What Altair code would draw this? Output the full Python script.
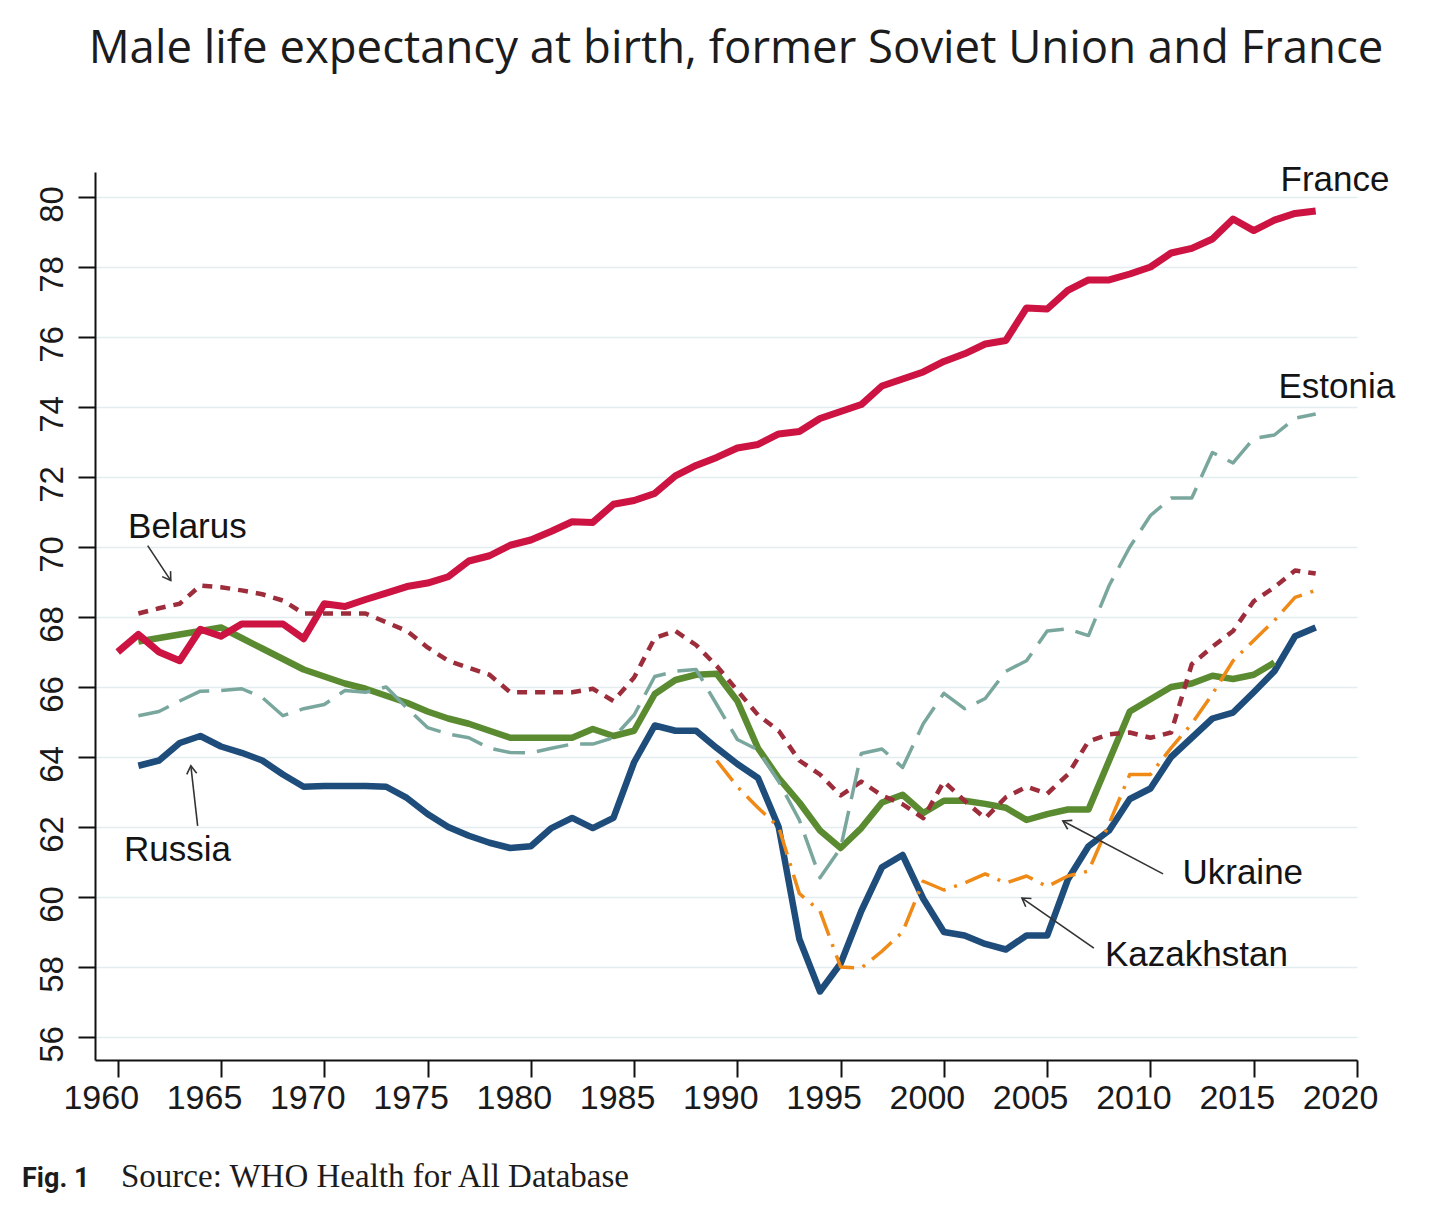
import math
import altair as alt
import pandas as pd

# ---------------- data ----------------
france_years = list(range(1960, 2019))
france = [67.0, 67.5, 67.0, 66.75, 67.65, 67.45, 67.8, 67.8, 67.8, 67.38,
          68.38, 68.3, 68.5, 68.68, 68.87, 68.97, 69.15, 69.6, 69.75, 70.05,
          70.2, 70.45, 70.72, 70.7, 71.22, 71.33, 71.53, 72.03, 72.33, 72.56,
          72.83, 72.93, 73.23, 73.3, 73.67, 73.87, 74.07, 74.6, 74.8, 75.0,
          75.3, 75.52, 75.8, 75.9, 76.83, 76.8, 77.33, 77.63, 77.63, 77.8,
          78.0, 78.4, 78.53, 78.8, 79.37, 79.04, 79.34, 79.53, 79.6]

belarus_years = list(range(1961, 2019))
belarus = [68.1, 68.25, 68.38, 68.9, 68.85, 68.76, 68.65, 68.47, 68.1,
           68.1, 68.1, 68.1, 67.85, 67.6, 67.13, 66.75, 66.55, 66.35, 65.85,
           65.85, 65.85, 65.85, 65.95, 65.6, 66.27, 67.4, 67.6, 67.2, 66.6,
           65.9, 65.2, 64.75, 63.9, 63.5, 62.9, 63.3, 62.9, 62.65, 62.25,
           63.3, 62.75, 62.25, 62.85, 63.15, 62.95, 63.5, 64.45, 64.65, 64.7,
           64.55, 64.7, 66.65, 67.15, 67.6, 68.45, 68.85, 69.33, 69.24]

estonia_years = list(range(1961, 2019))
estonia = [65.18, 65.3, 65.6, 65.88, 65.9, 65.95, 65.7, 65.18, 65.38,
           65.5, 65.9, 65.85, 66.0, 65.4, 64.84, 64.66, 64.55, 64.25, 64.13,
           64.12, 64.25, 64.37, 64.37, 64.55, 65.2, 66.3, 66.45, 66.5, 65.5,
           64.5, 64.2, 63.3, 62.2, 60.55, 61.4, 64.1, 64.23, 63.7, 64.95,
           65.82, 65.38, 65.67, 66.45, 66.75, 67.6, 67.66, 67.47, 68.9, 70.0,
           70.9, 71.4, 71.4, 72.7, 72.4, 73.1, 73.2, 73.68, 73.8]

ukraine_years = list(range(1961, 2017))
ukraine = [67.3, 67.4, 67.5, 67.6, 67.7, 67.4, 67.1, 66.8, 66.5,
           66.3, 66.1, 65.95, 65.75, 65.55, 65.3, 65.1, 64.95, 64.75, 64.55,
           64.55, 64.55, 64.55, 64.8, 64.6, 64.75, 65.8, 66.2, 66.35, 66.38,
           65.6, 64.25, 63.4, 62.7, 61.9, 61.4, 61.97, 62.7, 62.92, 62.4,
           62.75, 62.75, 62.66, 62.55, 62.2, 62.37, 62.5, 62.5, 63.9, 65.3,
           65.65, 66.0, 66.1, 66.32, 66.23, 66.35, 66.7]

russia_years = list(range(1961, 2019))
russia = [63.75, 63.9, 64.4, 64.6, 64.3, 64.12, 63.9, 63.5, 63.15,
          63.17, 63.17, 63.17, 63.15, 62.83, 62.37, 62.0, 61.75, 61.55, 61.4,
          61.45, 61.97, 62.26, 61.97, 62.26, 63.85, 64.9, 64.75, 64.75, 64.26,
          63.8, 63.4, 62.0, 58.8, 57.3, 58.1, 59.6, 60.85, 61.2, 59.95,
          59.0, 58.9, 58.66, 58.5, 58.9, 58.9, 60.5, 61.45, 61.9, 62.8,
          63.1, 64.0, 64.55, 65.1, 65.27, 65.85, 66.45, 67.45, 67.7]

kazakhstan_years = list(range(1989, 2019))
kazakhstan = [63.9, 63.15, 62.55, 62.0, 60.1, 59.6, 58.0, 57.97, 58.45,
              59.0, 60.45, 60.2, 60.4, 60.66, 60.4, 60.6, 60.3, 60.6, 60.74,
              62.1, 63.5, 63.5, 64.26, 64.95, 65.8, 66.75, 67.33, 67.9, 68.56,
              68.76]

x_ticks = list(range(1960, 2021, 5))
y_ticks = list(range(56, 81, 2))

# labels: name, year, value (left/baseline anchor)
label_names = ["France", "Estonia", "Belarus", "Russia", "Ukraine", "Kazakhstan"]
label_years = [2016.3, 2016.2, 1960.5, 1960.3, 2011.55, 2007.8]
label_values = [80.17, 74.25, 70.27, 61.03, 60.37, 58.03]

# arrows: start point and tip (data coordinates)
arrow_names = ["Belarus", "Russia", "Ukraine", "Kazakhstan"]
arrow_x1 = [1961.45, 1963.87, 2010.61, 2007.26]
arrow_y1 = [70.04, 62.03, 60.66, 58.54]
arrow_x2 = [1962.57, 1963.54, 2005.76, 2003.78]
arrow_y2 = [69.04, 63.75, 62.17, 59.97]

title_text = "Male life expectancy at birth, former Soviet Union and France"
fig_text = "Fig. 1"
source_text = "Source: WHO Health for All Database"

# ---------------- layout ----------------
W, H = 1262, 888
XDOM = [1958.9, 2020.0]
YDOM = [55.343, 80.714]
px_per_year = W / (XDOM[1] - XDOM[0])
px_per_unit = H / (YDOM[1] - YDOM[0])

xscale = alt.Scale(domain=XDOM, nice=False, zero=False)
yscale = alt.Scale(domain=YDOM, nice=False, zero=False)

xaxis = alt.Axis(values=x_ticks, format="d", title=None, grid=False,
                 labelFont="Liberation Sans", labelFontSize=34,
                 labelColor="#1a1a1a", labelPadding=4, labelFlush=False,
                 labelOverlap=False, labelOffset=-17, tickSize=17, tickWidth=2,
                 tickColor="#111111", domainColor="#111111", domainWidth=2)
yaxis = alt.Axis(values=y_ticks, format="d", title=None, grid=True,
                 gridColor="#e3ecef", gridWidth=1.5,
                 labelFont="Liberation Sans", labelFontSize=33,
                 labelColor="#1a1a1a", labelAngle=270, labelAlign="center",
                 labelBaseline="alphabetic", labelPadding=16, labelFlush=False,
                 labelOverlap=False, labelOffset=7, tickSize=17, tickWidth=2,
                 tickColor="#111111", domainColor="#111111", domainWidth=2)


def series_df(years, values):
    return pd.DataFrame({"year": years, "value": values})


def line_layer(years, values, color, width, dash=None):
    kw = dict(color=color, strokeWidth=width, strokeJoin="round")
    if dash is not None:
        kw["strokeDash"] = dash
    return alt.Chart(series_df(years, values)).mark_line(**kw).encode(
        x=alt.X("year:Q", scale=xscale, axis=xaxis),
        y=alt.Y("value:Q", scale=yscale, axis=yaxis),
    )


layers = [
    line_layer(russia_years, russia, "#1f4d7b", 6.5),
    line_layer(ukraine_years, ukraine, "#5b8b31", 6.5),
    line_layer(france_years, france, "#cc1342", 7),
    line_layer(belarus_years, belarus, "#9e2d3c", 4.5, [10, 8]),
    line_layer(estonia_years, estonia, "#7aa79d", 3.5, [32, 12]),
    line_layer(kazakhstan_years, kazakhstan, "#ef8a17", 3.5, [26, 9, 3, 9]),
]

# arrows
angles = []
for x1, y1, x2, y2 in zip(arrow_x1, arrow_y1, arrow_x2, arrow_y2):
    dx = (x2 - x1) * px_per_year
    dy = -(y2 - y1) * px_per_unit
    angles.append(math.degrees(math.atan2(dy, dx)) % 360)
arrows = pd.DataFrame({"name": arrow_names, "x1": arrow_x1, "y1": arrow_y1,
                       "x2": arrow_x2, "y2": arrow_y2, "angle": angles})

arrow_lines = alt.Chart(arrows).mark_rule(color="#333333", strokeWidth=1.6).encode(
    x=alt.X("x1:Q", scale=xscale, axis=xaxis),
    y=alt.Y("y1:Q", scale=yscale, axis=yaxis),
    x2="x2:Q", y2="y2:Q",
)
arrow_heads = alt.Chart(arrows).mark_point(
    shape="M -1 -0.62 L 0 0 L -1 0.62", filled=False, color="#333333",
    strokeWidth=1.6, size=260, opacity=1,
).encode(
    x=alt.X("x2:Q", scale=xscale, axis=xaxis),
    y=alt.Y("y2:Q", scale=yscale, axis=yaxis),
    angle=alt.Angle("angle:Q", scale=None),
)

labels = pd.DataFrame({"name": label_names, "year": label_years, "value": label_values})
label_layer = alt.Chart(labels).mark_text(
    align="left", baseline="alphabetic", font="Liberation Sans",
    fontSize=35, color="#141414",
).encode(
    x=alt.X("year:Q", scale=xscale, axis=xaxis),
    y=alt.Y("value:Q", scale=yscale, axis=yaxis),
    text="name:N",
)

title_layer = alt.Chart(pd.DataFrame({"t": [title_text]})).mark_text(
    align="center", baseline="alphabetic", font="Open Sans", fontSize=45.5,
    color="#1c1c1c",
).encode(text="t:N", x=alt.value(641), y=alt.value(-109))

fig_layer = alt.Chart(pd.DataFrame({"t": [fig_text]})).mark_text(
    align="left", baseline="alphabetic",
    font="Liberation Sans Narrow, Arial Narrow, Roboto", fontSize=27,
    fontWeight="bold", color="#1c1c1c",
).encode(text="t:N", x=alt.value(-73), y=alt.value(1015))

source_layer = alt.Chart(pd.DataFrame({"t": [source_text]})).mark_text(
    align="left", baseline="alphabetic", font="Liberation Serif", fontSize=33,
    color="#1c1c1c",
).encode(text="t:N", x=alt.value(26), y=alt.value(1015))

chart = alt.layer(
    *layers, arrow_lines, arrow_heads, label_layer,
    title_layer, fig_layer, source_layer,
).properties(
    width=W, height=H,
    autosize=alt.AutoSizeParams(type="none"),
    padding={"left": 87, "top": 164, "right": 90, "bottom": 148},
    background="white",
).configure_view(strokeWidth=0)

chart.save("out.html", embed_options={"renderer": "svg", "actions": False})
